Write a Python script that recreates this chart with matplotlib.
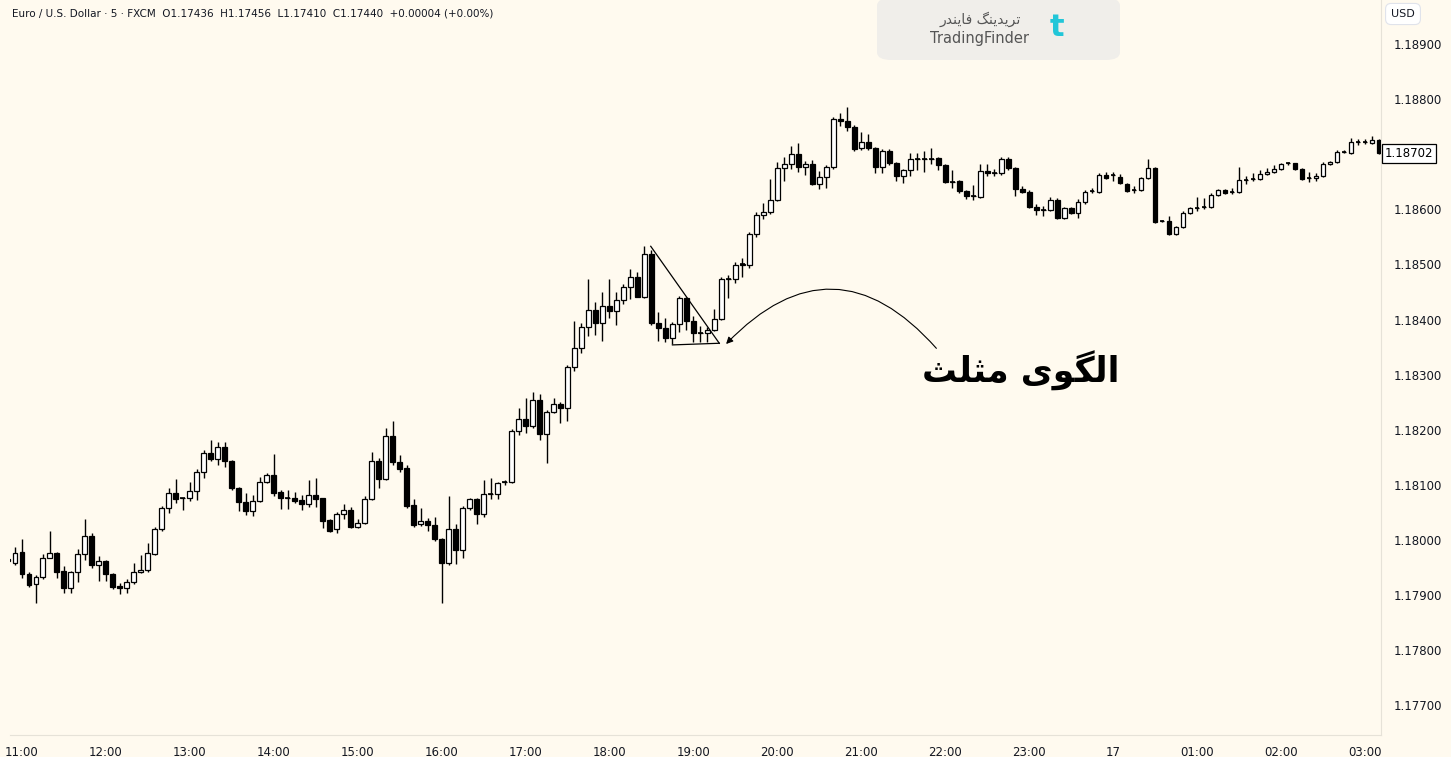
import numpy as np
import matplotlib
matplotlib.use("Agg")
import matplotlib.pyplot as plt
from matplotlib.patches import FancyBboxPatch

# EURUSD 5-minute candles, prices in 1e-5 units
opens = [117961, 117959, 117979, 117938, 117920, 117932, 117968, 117976, 117943, 117912,
         117941, 117974, 118008, 117954, 117961, 117938, 117916, 117912, 117923, 117941,
         117945, 117974, 118019, 118058, 118085, 118076, 118076, 118088, 118123, 118158,
         118147, 118169, 118143, 118094, 118069, 118052, 118070, 118106, 118117, 118087,
         118076, 118076, 118072, 118065, 118081, 118076, 118036, 118019, 118047, 118054,
         118023, 118030, 118074, 118143, 118110, 118188, 118141, 118130, 118063, 118029,
         118034, 118027, 118001, 117958, 118019, 117981, 118058, 118074, 118047, 118083,
         118083, 118105, 118105, 118197, 118219, 118206, 118254, 118192, 118233, 118246,
         118239, 118314, 118348, 118386, 118417, 118394, 118424, 118415, 118435, 118459,
         118477, 118441, 118519, 118394, 118385, 118366, 118392, 118439, 118397, 118375,
         118375, 118381, 118401, 118473, 118473, 118499, 118499, 118555, 118590, 118595,
         118617, 118675, 118682, 118700, 118677, 118682, 118646, 118659, 118677, 118764,
         118760, 118749, 118711, 118722, 118711, 118677, 118706, 118684, 118660, 118671,
         118691, 118691, 118691, 118693, 118680, 118649, 118651, 118633, 118624, 118622,
         118669, 118666, 118666, 118691, 118675, 118637, 118631, 118604, 118599, 118599,
         118617, 118584, 118602, 118593, 118613, 118633, 118631, 118662, 118662, 118659,
         118646, 118635, 118635, 118657, 118675, 118578, 118578, 118555, 118568, 118593,
         118602, 118604, 118604, 118626, 118635, 118631, 118631, 118653, 118655, 118655,
         118664, 118668, 118673, 118684, 118684, 118673, 118657, 118657, 118660, 118682,
         118686, 118704, 118702, 118722, 118722, 118720, 118726]
closes = [117965, 117977, 117938, 117918, 117932, 117968, 117976, 117941, 117912, 117941,
          117974, 118008, 117954, 117961, 117938, 117914, 117912, 117923, 117941, 117945,
          117976, 118019, 118058, 118085, 118074, 118076, 118088, 118123, 118158, 118147,
          118169, 118143, 118094, 118069, 118052, 118070, 118106, 118117, 118085, 118076,
          118076, 118070, 118065, 118081, 118074, 118034, 118017, 118047, 118054, 118023,
          118030, 118074, 118143, 118110, 118188, 118141, 118128, 118061, 118027, 118034,
          118027, 118001, 117958, 118019, 117981, 118058, 118074, 118047, 118083, 118083,
          118103, 118105, 118197, 118219, 118206, 118254, 118192, 118233, 118246, 118239,
          118314, 118348, 118386, 118417, 118394, 118424, 118415, 118435, 118459, 118477,
          118441, 118519, 118394, 118385, 118366, 118392, 118439, 118397, 118375, 118375,
          118381, 118401, 118473, 118473, 118499, 118501, 118555, 118590, 118595, 118617,
          118675, 118682, 118700, 118677, 118682, 118646, 118659, 118677, 118764, 118760,
          118749, 118709, 118722, 118711, 118677, 118706, 118684, 118660, 118671, 118691,
          118691, 118691, 118691, 118680, 118649, 118649, 118633, 118624, 118624, 118669,
          118666, 118666, 118691, 118675, 118637, 118631, 118604, 118599, 118599, 118617,
          118584, 118602, 118593, 118613, 118631, 118633, 118662, 118657, 118662, 118648,
          118633, 118635, 118657, 118675, 118577, 118578, 118555, 118568, 118593, 118602,
          118602, 118604, 118626, 118635, 118629, 118631, 118653, 118653, 118655, 118664,
          118668, 118673, 118682, 118684, 118673, 118655, 118657, 118660, 118682, 118686,
          118704, 118704, 118722, 118722, 118722, 118726, 118702]
highs = [117972, 117988, 118001, 117941, 117936, 117974, 118017, 117979, 117952, 117943,
         117983, 118038, 118012, 117970, 117963, 117940, 117922, 117929, 117958, 117972,
         117994, 118023, 118061, 118094, 118110, 118077, 118106, 118128, 118163, 118181,
         118177, 118177, 118145, 118097, 118085, 118081, 118115, 118121, 118156, 118090,
         118090, 118087, 118081, 118108, 118113, 118077, 118038, 118050, 118065, 118059,
         118038, 118079, 118159, 118149, 118204, 118215, 118154, 118136, 118074, 118058,
         118040, 118041, 118003, 118079, 118029, 118061, 118077, 118077, 118108, 118113,
         118106, 118108, 118201, 118239, 118257, 118268, 118265, 118235, 118257, 118250,
         118317, 118397, 118394, 118473, 118432, 118450, 118473, 118450, 118464, 118491,
         118486, 118533, 118526, 118413, 118403, 118395, 118442, 118441, 118406, 118388,
         118386, 118419, 118477, 118480, 118504, 118512, 118559, 118595, 118612, 118655,
         118686, 118695, 118715, 118721, 118688, 118689, 118669, 118680, 118767, 118775,
         118786, 118753, 118740, 118737, 118713, 118709, 118709, 118686, 118673, 118702,
         118702, 118706, 118711, 118695, 118682, 118671, 118653, 118635, 118644, 118682,
         118682, 118673, 118695, 118695, 118677, 118642, 118635, 118610, 118606, 118622,
         118620, 118604, 118604, 118619, 118635, 118639, 118666, 118668, 118668, 118664,
         118648, 118642, 118659, 118691, 118677, 118580, 118588, 118570, 118597, 118604,
         118622, 118620, 118629, 118637, 118637, 118639, 118677, 118660, 118666, 118671,
         118675, 118680, 118684, 118686, 118684, 118675, 118668, 118666, 118686, 118688,
         118708, 118708, 118729, 118728, 118728, 118733, 118728]
lows = [117958, 117954, 117931, 117914, 117886, 117929, 117967, 117931, 117904, 117904,
        117923, 117963, 117949, 117925, 117925, 117911, 117902, 117904, 117920, 117940,
        117941, 117972, 118017, 118049, 118067, 118054, 118070, 118072, 118113, 118143,
        118136, 118132, 118090, 118052, 118045, 118043, 118069, 118103, 118079, 118056,
        118056, 118067, 118054, 118059, 118059, 118021, 118014, 118012, 118038, 118021,
        118021, 118029, 118072, 118094, 118108, 118136, 118124, 118058, 118023, 118025,
        118016, 117999, 117885, 117954, 117956, 117968, 118054, 118029, 118041, 118074,
        118074, 118099, 118103, 118190, 118195, 118203, 118181, 118139, 118230, 118213,
        118215, 118306, 118339, 118370, 118372, 118361, 118403, 118390, 118428, 118437,
        118441, 118439, 118390, 118361, 118359, 118355, 118377, 118381, 118359, 118359,
        118359, 118379, 118399, 118439, 118466, 118477, 118493, 118550, 118583, 118592,
        118615, 118651, 118673, 118668, 118662, 118644, 118637, 118639, 118673, 118751,
        118742, 118706, 118708, 118708, 118666, 118666, 118680, 118651, 118648, 118660,
        118671, 118668, 118682, 118671, 118648, 118639, 118630, 118619, 118617, 118620,
        118660, 118660, 118662, 118671, 118624, 118630, 118602, 118590, 118588, 118597,
        118583, 118583, 118591, 118584, 118610, 118630, 118630, 118655, 118651, 118646,
        118631, 118630, 118633, 118655, 118575, 118577, 118553, 118553, 118566, 118591,
        118597, 118600, 118602, 118624, 118628, 118628, 118629, 118646, 118651, 118653,
        118662, 118666, 118671, 118680, 118671, 118653, 118649, 118651, 118659, 118680,
        118684, 118702, 118700, 118717, 118719, 118719, 118700]

time_labels = ["11:00", "12:00", "13:00", "14:00", "15:00", "16:00", "17:00", "18:00",
               "19:00", "20:00", "21:00", "22:00", "23:00", "17", "01:00", "02:00", "03:00"]
price_ticks = [1.177, 1.178, 1.179, 1.180, 1.181, 1.182, 1.183, 1.184, 1.185,
               1.186, 1.188, 1.189]
last_price = 1.18702

o = np.array(opens) / 1e5
c = np.array(closes) / 1e5
h = np.array(highs) / 1e5
l = np.array(lows) / 1e5
x = np.arange(1, len(o) + 1)

bg = "#fffaef"
fig = plt.figure(figsize=(14.51, 7.57), dpi=100, facecolor=bg)
ax = fig.add_axes([10 / 1451, 22 / 757, 1371 / 1451, 735 / 757], facecolor=bg)

ax.vlines(x, l, h, color="black", linewidth=1, zorder=2)
up = c >= o
body = np.abs(c - o)
ax.bar(x[up], body[up], bottom=o[up], width=0.68, color="white",
       edgecolor="black", linewidth=0.9, zorder=3)
ax.bar(x[~up], body[~up], bottom=c[~up], width=0.68, color="black",
       edgecolor="black", linewidth=0.9, zorder=3)
doji = body < 0.000025
ax.hlines(c[doji], x[doji] - 0.34, x[doji] + 0.34, color="black", linewidth=1.2, zorder=4)

ax.set_xlim(1.3, 197.3)
ax.set_ylim(1.17646, 1.18980)
ax.set_xticks(np.arange(3, 196, 12))
ax.set_xticklabels(time_labels, fontsize=8.5, color="#131722")
ax.set_yticks(price_ticks)
ax.set_yticklabels([f"{p:.5f}" for p in price_ticks], fontsize=8.5, color="#131722")
ax.yaxis.tick_right()
ax.tick_params(length=0, pad=8)
ax.tick_params(axis="y", pad=9)
for s in ["top", "left"]:
    ax.spines[s].set_visible(False)
for s in ["right", "bottom"]:
    ax.spines[s].set_color("#e6e2d8")

# last price label
ax.text(1.0 + 4 / 1371, last_price, f"{last_price:.5f}", transform=ax.get_yaxis_transform(),
        fontsize=8.5, va="center", ha="left", color="black",
        bbox=dict(boxstyle="square,pad=0.25", fc="white", ec="black", lw=0.9))

# triangle pattern lines
ax.plot([92.9, 102.7], [1.18533, 1.18357], color="black", linewidth=0.9, zorder=5)
ax.plot([96.0, 102.7], [1.18354, 1.18357], color="black", linewidth=0.9, zorder=5)

# curved arrow and label
ax.annotate("", xy=(103.4, 1.18352), xytext=(134.0, 1.18344),
            arrowprops=dict(arrowstyle="-|>", color="black", lw=0.8,
                            connectionstyle="arc3,rad=0.55", mutation_scale=10))
label = "\uFE9A\uFEE0\uFE9C\uFEE3 \uFBFC\uFEEE\uFB95\uFEDF\uFE8D"
ax.text(145.8, 1.18306, label, fontsize=25, fontweight="bold", ha="center",
        va="center", family=["DejaVu Sans"])

# header and watermark
fig.text(12 / 1451, 1 - 13 / 757,
         "Euro / U.S. Dollar \u00b7 5 \u00b7 FXCM  O1.17436  H1.17456  L1.17410  C1.17440  +0.00004 (+0.00%)",
         fontsize=7.5, color="#131722", va="center")
fig.patches.append(FancyBboxPatch((877 / 1451, 1 - 60 / 757), 243 / 1451, 62 / 757,
                                  boxstyle="round,pad=0,rounding_size=0.01",
                                  transform=fig.transFigure, fc="#f0eeea", ec="none"))
fig.text(980 / 1451, 1 - 19 / 757,
         "\uFEAD\uFEAA\uFEE8\uFBFE\uFE8E\uFED3 \uFB93\uFEE8\uFBFE\uFEAA\uFBFE\uFEAE\uFE97",
         fontsize=10, color="#555555", ha="center", va="center")
fig.text(980 / 1451, 1 - 38 / 757, "TradingFinder", fontsize=10.5, color="#555555",
         ha="center", va="center")
fig.text(1057 / 1451, 1 - 28 / 757, "t", fontsize=22, color="#22c6d8", ha="center",
         va="center", fontweight="bold")
fig.text(1403 / 1451, 1 - 14 / 757, "USD", fontsize=8, color="#131722", ha="center",
         va="center", bbox=dict(boxstyle="round,pad=0.5", fc="white", ec="#e0e3eb", lw=0.8))

fig.savefig("out.png", dpi=100, facecolor=bg)
